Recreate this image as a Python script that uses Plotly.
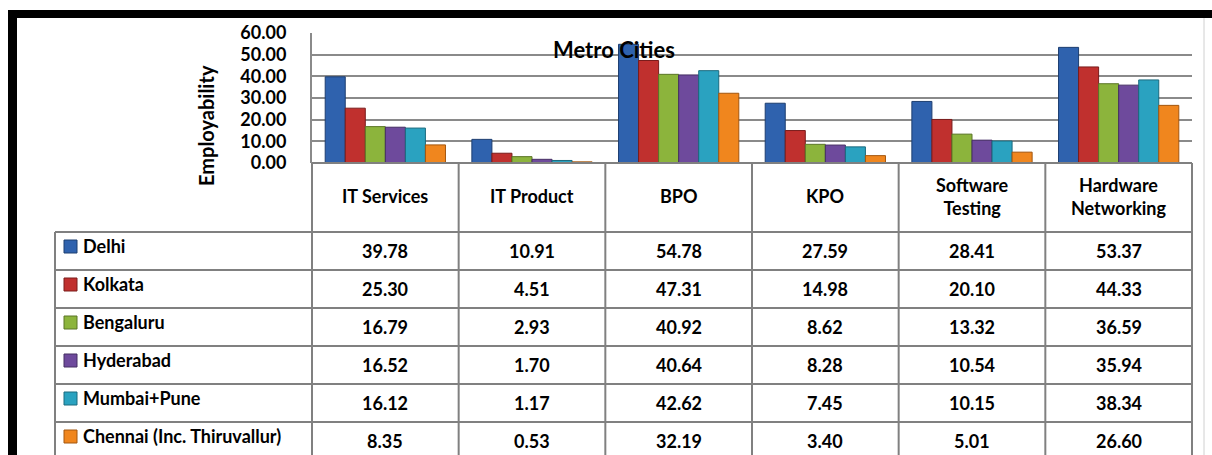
import plotly.graph_objects as go

# ---------------- data ----------------
categories = ["IT Services", "IT Product", "BPO", "KPO", "Software Testing", "Hardware Networking"]
category_labels = ["IT Services", "IT Product", "BPO", "KPO", "Software<br>Testing", "Hardware<br>Networking"]
cities = ["Delhi", "Kolkata", "Bengaluru", "Hyderabad", "Mumbai+Pune", "Chennai (Inc. Thiruvallur)"]

delhi = [39.78, 10.91, 54.78, 27.59, 28.41, 53.37]
kolkata = [25.30, 4.51, 47.31, 14.98, 20.10, 44.33]
bengaluru = [16.79, 2.93, 40.92, 8.62, 13.32, 36.59]
hyderabad = [16.52, 1.70, 40.64, 8.28, 10.54, 35.94]
mumbai_pune = [16.12, 1.17, 42.62, 7.45, 10.15, 38.34]
chennai = [8.35, 0.53, 32.19, 3.40, 5.01, 26.60]

series = [delhi, kolkata, bengaluru, hyderabad, mumbai_pune, chennai]
y_ticks = [0, 10, 20, 30, 40, 50, 60]

# ---------------- style ----------------
colors = ["#2F62AE", "#C0302E", "#8CB43C", "#6E4A9C", "#2AA2C0", "#F0861E"]
edges = ["#1D3E70", "#7A1C1B", "#5A7526", "#452E63", "#1A6A7E", "#A3560F"]
FONT = "Lato"
GRID = "#8a8a8a"

W, H = 1212, 455
L, R, T, B = 312, 1192, 33, 163  # plot area in pixels


def px(x):
    return (x - L) / (R - L)


def py(y):
    return (B - y) / (B - T)


fig = go.Figure()
for name, vals, c, e in zip(cities, series, colors, edges):
    fig.add_trace(go.Bar(x=categories, y=vals, name=name,
                         marker=dict(color=c, line=dict(color=e, width=1))))

fig.update_layout(
    width=W, height=H, autosize=False,
    margin=dict(l=L, r=W - R, t=T, b=H - B, pad=0),
    paper_bgcolor="white", plot_bgcolor="white",
    barmode="group", bargap=0.18, bargroupgap=0.0,
    showlegend=False,
    font=dict(family=FONT, color="black"),
)
fig.update_xaxes(showticklabels=False, showgrid=False, zeroline=False,
                 showline=False, ticks="", range=[-0.5, 5.5])
fig.update_yaxes(range=[0, 60], tickvals=y_ticks, tickformat=".2f",
                 showgrid=True, gridcolor=GRID, gridwidth=2, zeroline=False,
                 showline=True, linecolor=GRID, linewidth=2, ticks="",
                 ticklabelstandoff=20,
                 tickfont=dict(family=FONT, size=18, weight="bold", color="black"))

shapes = []
ann = []
line = dict(color="#808080", width=2)

# table grid
row_edges = [163, 232, 270, 308, 346, 384, 422]
col_edges = [L + i * (R - L) / 6 for i in range(7)]
TL = 55
for i, yv in enumerate(row_edges):
    x0 = L if i == 0 else TL
    shapes.append(dict(type="line", xref="paper", yref="paper",
                       x0=px(x0), x1=px(R), y0=py(yv), y1=py(yv), line=line))
for xv in col_edges:
    shapes.append(dict(type="line", xref="paper", yref="paper",
                       x0=px(xv), x1=px(xv), y0=py(163), y1=py(H + 5), line=line))
shapes.append(dict(type="line", xref="paper", yref="paper",
                   x0=px(TL), x1=px(TL), y0=py(232), y1=py(H + 5), line=line))

# outer frame
shapes.append(dict(type="rect", xref="paper", yref="paper", x0=px(8), x1=px(W + 5),
                   y0=py(10), y1=py(18), fillcolor="black", line=dict(width=0)))
shapes.append(dict(type="rect", xref="paper", yref="paper", x0=px(8), x1=px(17),
                   y0=py(10), y1=py(H + 5), fillcolor="black", line=dict(width=0)))
shapes.append(dict(type="line", xref="paper", yref="paper", x0=px(1204), x1=px(1204),
                   y0=py(18), y1=py(H + 5), line=dict(color="#d0d0d0", width=1)))

tf = dict(family=FONT, size=18, weight="bold", color="black")

# header row
for cat, lab in zip(categories, category_labels):
    ann.append(dict(x=cat, xref="x", y=py(196), yref="paper", text=lab,
                    showarrow=False, font=tf, xanchor="center", yanchor="middle"))

# data rows
row_centers = [251, 289, 327, 365, 403, 441]
for r, (name, vals, c, e) in enumerate(zip(cities, series, colors, edges)):
    yc = row_centers[r]
    for cat, v in zip(categories, vals):
        ann.append(dict(x=cat, xref="x", y=py(yc), yref="paper", text=f"{v:.2f}",
                        showarrow=False, font=tf, xanchor="center", yanchor="middle"))
    ann.append(dict(x=px(81), xref="paper", y=py(yc - 5), yref="paper", text=name,
                    showarrow=False, font=tf, xanchor="left", yanchor="middle"))
    shapes.append(dict(type="rect", xref="paper", yref="paper",
                       x0=px(64), x1=px(77), y0=py(yc - 11), y1=py(yc + 2),
                       fillcolor=c, line=dict(color=e, width=1)))

# titles
ann.append(dict(x=px(614), xref="paper", y=py(49), yref="paper", text="Metro Cities",
                showarrow=False, font=dict(family=FONT, size=22, weight="bold", color="black"),
                xanchor="center", yanchor="middle"))
ann.append(dict(x=px(206), xref="paper", y=py(126), yref="paper", text="Employability",
                showarrow=False, textangle=-90,
                font=dict(family=FONT, size=20, weight="bold", color="black"),
                xanchor="center", yanchor="middle"))

fig.update_layout(shapes=shapes, annotations=ann)

fig.write_html("out.html", config={"displayModeBar": False},
               post_script="document.body.style.margin='0';document.body.style.overflow='hidden';")
